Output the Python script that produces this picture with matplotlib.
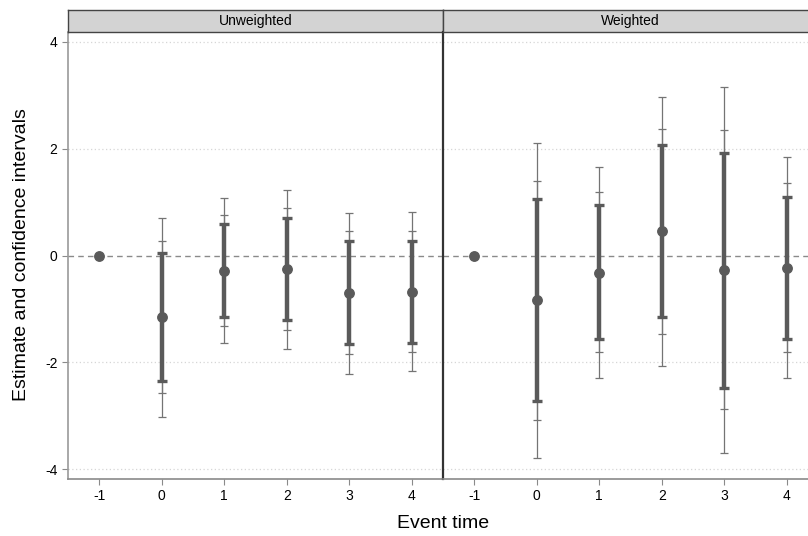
import numpy as np
import matplotlib.pyplot as plt

plt.rcParams['font.family'] = ['Liberation Sans', 'DejaVu Sans']
plt.rcParams['axes.unicode_minus'] = False

event_time = [-1, 0, 1, 2, 3, 4]
paneles = ['Unweighted', 'Weighted']

# estimaciones y bandas (interna gruesa, media, externa)
est = {
    'Unweighted': [0, -1.15, -0.29, -0.26, -0.70, -0.68],
    'Weighted':   [0, -0.84, -0.32, 0.45, -0.28, -0.23],
}
thick_lo = {
    'Unweighted': [0, -2.35, -1.15, -1.21, -1.66, -1.63],
    'Weighted':   [0, -2.72, -1.57, -1.15, -2.47, -1.56],
}
thick_hi = {
    'Unweighted': [0, 0.04, 0.58, 0.70, 0.27, 0.28],
    'Weighted':   [0, 1.05, 0.95, 2.06, 1.92, 1.09],
}
mid_lo = {
    'Unweighted': [0, -2.57, -1.31, -1.40, -1.84, -1.81],
    'Weighted':   [0, -3.07, -1.81, -1.46, -2.88, -1.81],
}
mid_hi = {
    'Unweighted': [0, 0.27, 0.75, 0.88, 0.45, 0.46],
    'Weighted':   [0, 1.40, 1.18, 2.37, 2.34, 1.35],
}
out_lo = {
    'Unweighted': [0, -3.02, -1.64, -1.75, -2.21, -2.16],
    'Weighted':   [0, -3.78, -2.29, -2.06, -3.70, -2.30],
}
out_hi = {
    'Unweighted': [0, 0.70, 1.07, 1.23, 0.80, 0.82],
    'Weighted':   [0, 2.11, 1.66, 2.97, 3.15, 1.84],
}

W, H = 808, 536
fig = plt.figure(figsize=(W / 100, H / 100), dpi=100)

oscuro = '#5a5a5a'
fino = '#747474'

for i, p in enumerate(paneles):
    x0 = (68 + i * 375) / W
    ax = fig.add_axes([x0, (H - 479) / H, 375 / W, 447 / H])
    strip = fig.add_axes([x0, (H - 32) / H, 375 / W, 22 / H])

    x = np.array(event_time[1:])
    e = np.array(est[p][1:])
    tl, th = np.array(thick_lo[p][1:]), np.array(thick_hi[p][1:])
    ml, mh = np.array(mid_lo[p][1:]), np.array(mid_hi[p][1:])
    ol, oh = np.array(out_lo[p][1:]), np.array(out_hi[p][1:])

    ax.axhline(0, color='#8a8a8a', lw=1, ls=(0, (4, 3)), zorder=1)
    ax.errorbar(x, e, yerr=[e - ol, oh - e], fmt='none', ecolor=fino,
                elinewidth=0.9, capsize=2.6, capthick=0.9, zorder=2)
    ax.errorbar(x, e, yerr=[e - ml, mh - e], fmt='none', ecolor=fino,
                elinewidth=0.9, capsize=2.6, capthick=0.9, zorder=2)
    ax.errorbar(x, e, yerr=[e - tl, th - e], fmt='none', ecolor=oscuro,
                elinewidth=3.2, capsize=3.4, capthick=2.4, zorder=3)
    ax.plot(event_time, est[p], 'o', color=oscuro, ms=6.8, zorder=4)

    ax.set_xlim(-1.5, 4.5)
    ax.set_ylim(-4.18, 4.18)
    ax.set_xticks(event_time)
    ax.set_yticks([-4, -2, 0, 2, 4])
    for yv in [-4, -2, 2, 4]:
        ax.axhline(yv, color='#d6d6d6', lw=0.9, ls=(0, (1, 2)), zorder=0)
    ax.tick_params(axis='both', colors='#8a8a8a', labelcolor='black',
                   labelsize=10, length=4, width=0.8)
    ax.spines['top'].set_visible(False)
    ax.spines['right'].set_visible(False)
    ax.spines['bottom'].set_color('#8a8a8a')
    ax.spines['bottom'].set_linewidth(1.2)
    if i == 0:
        ax.spines['left'].set_color('#9a9a9a')
        ax.spines['left'].set_linewidth(1.2)
    else:
        ax.spines['left'].set_color('#333333')
        ax.spines['left'].set_linewidth(1.6)
        ax.tick_params(axis='y', left=False, labelleft=False)

    strip.set_facecolor('#d3d3d3')
    strip.set_xticks([])
    strip.set_yticks([])
    for s in strip.spines.values():
        s.set_color('#444444')
        s.set_linewidth(1.0)
    strip.text(0.5, 0.5, p, ha='center', va='center', fontsize=10,
               transform=strip.transAxes)

fig.text(22 / W, 1 - 255 / H, 'Estimate and confidence intervals',
         rotation=90, ha='center', va='center', fontsize=14)
fig.text(443 / W, 1 - 523 / H, 'Event time', ha='center', va='center',
         fontsize=14)

fig.savefig('out.png', dpi=100)
